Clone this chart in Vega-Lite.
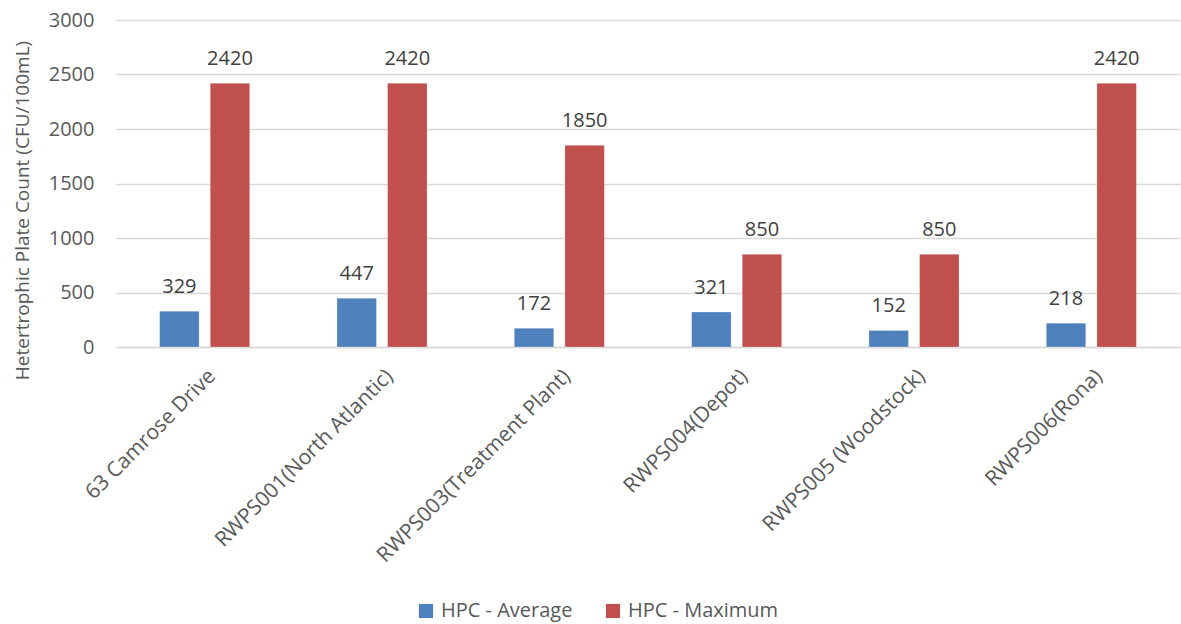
{
  "$schema": "https://vega.github.io/schema/vega-lite/v6.json",
  "width": 1064,
  "height": 327,
  "autosize": "none",
  "padding": {"left": 116, "top": 20, "right": 1, "bottom": 277},
  "background": "white",
  "config": {
    "font": "Open Sans",
    "view": {"stroke": null}
  },
  "data": {
    "values": [
      {"site": "63 Camrose Drive", "series": "HPC - Average", "value": 329},
      {"site": "63 Camrose Drive", "series": "HPC - Maximum", "value": 2420},
      {"site": "RWPS001(North Atlantic)", "series": "HPC - Average", "value": 447},
      {"site": "RWPS001(North Atlantic)", "series": "HPC - Maximum", "value": 2420},
      {"site": "RWPS003(Treatment Plant)", "series": "HPC - Average", "value": 172},
      {"site": "RWPS003(Treatment Plant)", "series": "HPC - Maximum", "value": 1850},
      {"site": "RWPS004(Depot)", "series": "HPC - Average", "value": 321},
      {"site": "RWPS004(Depot)", "series": "HPC - Maximum", "value": 850},
      {"site": "RWPS005 (Woodstock)", "series": "HPC - Average", "value": 152},
      {"site": "RWPS005 (Woodstock)", "series": "HPC - Maximum", "value": 850},
      {"site": "RWPS006(Rona)", "series": "HPC - Average", "value": 218},
      {"site": "RWPS006(Rona)", "series": "HPC - Maximum", "value": 2420}
    ]
  },
  "encoding": {
    "x": {
      "field": "site",
      "type": "nominal",
      "sort": null,
      "scale": {"paddingInner": 0.492, "paddingOuter": 0.246},
      "axis": {
        "title": null,
        "labelAngle": -45,
        "labelFontSize": 21,
        "labelColor": "#595959",
        "labelPadding": 18,
        "ticks": false,
        "domainColor": "#d9d9d9",
        "domainWidth": 1.5,
        "labelLimit": 400
      }
    },
    "xOffset": {
      "field": "series",
      "type": "nominal",
      "sort": ["HPC - Average", "HPC - Maximum"],
      "scale": {"paddingInner": 0.22, "paddingOuter": 0}
    },
    "y": {
      "field": "value",
      "type": "quantitative",
      "scale": {"domain": [0, 3000]},
      "axis": {
        "title": "Hetertrophic Plate Count (CFU/100mL)",
        "titleFontSize": 19,
        "titleFontWeight": "normal",
        "titleColor": "#595959",
        "titlePadding": 16,
        "titleAnchor": "middle",
        "titleY": 190,
        "values": [0, 500, 1000, 1500, 2000, 2500, 3000],
        "format": "d",
        "labelFontSize": 20,
        "labelColor": "#595959",
        "labelPadding": 22,
        "ticks": false,
        "domain": false,
        "gridColor": "#d9d9d9",
        "gridWidth": 1.3
      }
    }
  },
  "layer": [
    {
      "mark": {"type": "bar", "stroke": "white", "strokeOpacity": 0.25, "strokeWidth": 1},
      "encoding": {
        "color": {
          "field": "series",
          "type": "nominal",
          "sort": ["HPC - Average", "HPC - Maximum"],
          "scale": {"range": ["#4f81bd", "#c0504d"]},
          "legend": {
            "title": null,
            "orient": "none",
            "direction": "horizontal",
            "legendX": 300,
            "legendY": 581,
            "symbolType": "square",
            "symbolSize": 200,
            "symbolStrokeWidth": 0,
            "labelFontSize": 20,
            "labelColor": "#595959",
            "labelOffset": 5,
            "columnPadding": 30
          }
        }
      }
    },
    {
      "mark": {
        "type": "text",
        "dy": -18,
        "baseline": "alphabetic",
        "fontSize": 20,
        "color": "#404040"
      },
      "encoding": {
        "text": {"field": "value", "type": "quantitative"}
      }
    }
  ]
}
